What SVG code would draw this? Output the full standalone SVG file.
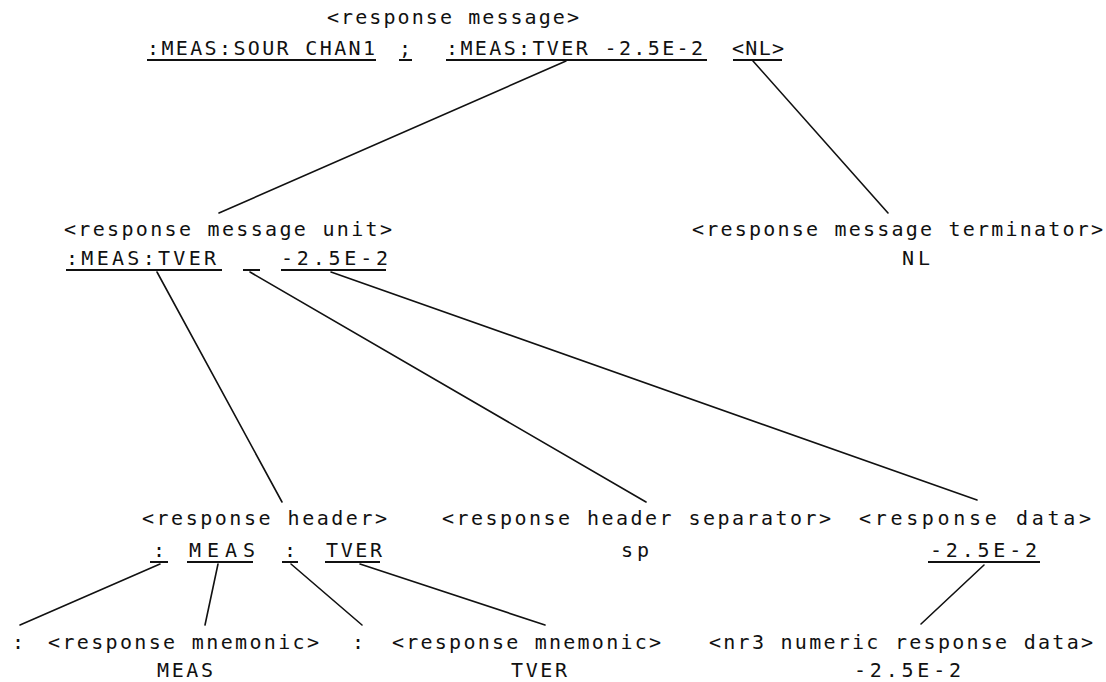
<svg xmlns="http://www.w3.org/2000/svg" width="1106" height="682" viewBox="0 0 1106 682">
<style>
text{font-family:"DejaVu Sans Mono","Liberation Mono",monospace;font-size:20px;fill:#111}
.c{text-anchor:middle}
.u{stroke:#111;stroke-width:2;fill:none}
.k{stroke:#111;stroke-width:1.6;fill:none;stroke-linecap:round}
</style>
<rect width="1106" height="682" fill="#fff"/>
<g id="response-message">
<text x="327" y="24" textLength="252" lengthAdjust="spacing">&lt;response message&gt;</text>
<text x="147" y="55" textLength="228" lengthAdjust="spacing">:MEAS:SOUR CHAN1</text>
<text x="405" y="55" class="c">;</text>
<text x="446" y="55" textLength="257" lengthAdjust="spacing">:MEAS:TVER -2.5E-2</text>
<text x="732" y="55" textLength="52" lengthAdjust="spacing">&lt;NL&gt;</text>
<path class="u" d="M147 60H376M399 60H412M446 60H707M733 60H782"/>
</g>
<g id="response-message-unit">
<text x="64" y="236" textLength="328" lengthAdjust="spacing">&lt;response message unit&gt;</text>
<text x="66" y="265" textLength="150" lengthAdjust="spacing">:MEAS:TVER</text>
<text x="281" y="265" textLength="107" lengthAdjust="spacing">-2.5E-2</text>
<path class="u" d="M66 270H222M243 270H260M281 270H386"/>
</g>
<g id="response-message-terminator">
<text x="692" y="236" textLength="411" lengthAdjust="spacing">&lt;response message terminator&gt;</text>
<text x="902" y="265" textLength="28" lengthAdjust="spacing">NL</text>
</g>
<g id="response-header">
<text x="142" y="525" textLength="245" lengthAdjust="spacing">&lt;response header&gt;</text>
<text x="159" y="557" class="c">:</text>
<text x="189" y="557" textLength="66" lengthAdjust="spacing">MEAS</text>
<text x="290" y="557" class="c">:</text>
<text x="326" y="557" textLength="56" lengthAdjust="spacing">TVER</text>
<path class="u" d="M150 562H168M187 562H253M282 562H298M325 562H380"/>
</g>
<g id="response-header-separator">
<text x="442" y="525" textLength="389" lengthAdjust="spacing">&lt;response header separator&gt;</text>
<text x="621" y="557" textLength="28" lengthAdjust="spacing">sp</text>
</g>
<g id="response-data">
<text x="859" y="525" textLength="232" lengthAdjust="spacing">&lt;response data&gt;</text>
<text x="930" y="557" textLength="107" lengthAdjust="spacing">-2.5E-2</text>
<path class="u" d="M928 562H1040"/>
</g>
<g id="colon-1"><text x="18" y="649" class="c">:</text></g>
<g id="response-mnemonic-1">
<text x="48" y="649" textLength="271" lengthAdjust="spacing">&lt;response mnemonic&gt;</text>
<text x="157" y="677" textLength="56" lengthAdjust="spacing">MEAS</text>
</g>
<g id="colon-2"><text x="358" y="649" class="c">:</text></g>
<g id="response-mnemonic-2">
<text x="392" y="649" textLength="269" lengthAdjust="spacing">&lt;response mnemonic&gt;</text>
<text x="511" y="677" textLength="56" lengthAdjust="spacing">TVER</text>
</g>
<g id="nr3-numeric-response-data">
<text x="709" y="649" textLength="384" lengthAdjust="spacing">&lt;nr3 numeric response data&gt;</text>
<text x="854" y="677" textLength="107" lengthAdjust="spacing">-2.5E-2</text>
</g>
<g id="connectors">
<path class="k" d="M566 61L219 213"/>
<path class="k" d="M753 61L888 213"/>
<path class="k" d="M157 272L282 502"/>
<path class="k" d="M250 272L646 502"/>
<path class="k" d="M331 272L977 500"/>
<path class="k" d="M160 564L20 625"/>
<path class="k" d="M218 564L205 625"/>
<path class="k" d="M291 564L362 625"/>
<path class="k" d="M360 564L545 625"/>
<path class="k" d="M984 565L921 624"/>
</g>
</svg>
